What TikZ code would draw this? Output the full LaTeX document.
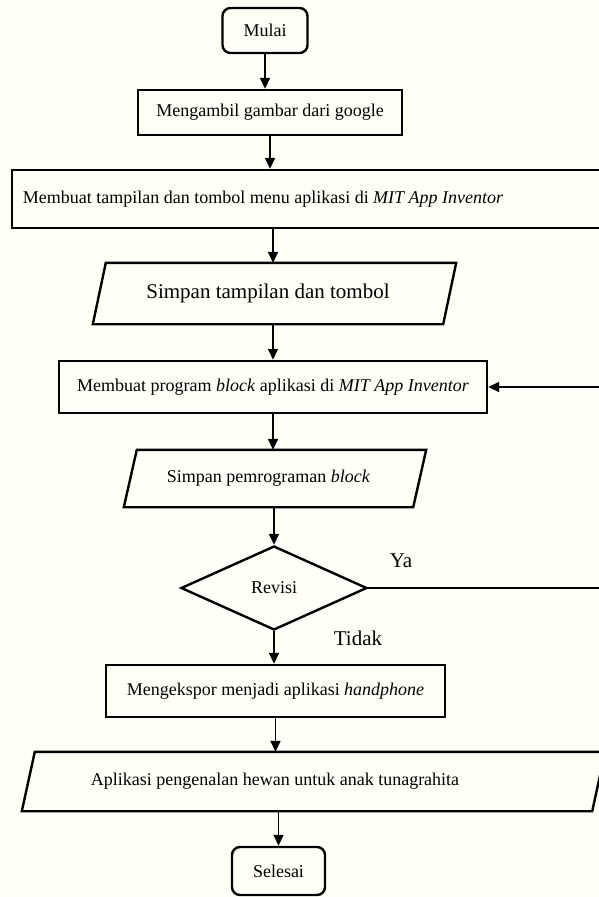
\documentclass[tikz,border=0pt]{standalone}
\usepackage{fontspec}
\setmainfont{Liberation Serif}
\usetikzlibrary{shapes.geometric,arrows.meta}
\definecolor{bg}{RGB}{255,255,246}
\begin{document}
\begin{tikzpicture}[x=1pt,y=-1pt,
  txt/.style={font=\fontsize{18}{21}\selectfont},
  proc/.style={draw,line width=2.4pt,inner sep=0pt,align=center,txt},
  term/.style={proc,rounded corners=8pt},
  iobody/.style={inner sep=0pt,align=center,txt},
  ioline/.style={line width=2.4pt,line join=miter},
  dec/.style={proc,diamond,aspect=2.2},
  arr/.style={line width=1.6pt,-{Triangle[length=11pt,width=10pt]}},
  lab/.style={font=\fontsize{21}{24}\selectfont,inner sep=0pt}]
\fill[bg] (0,0) rectangle (599,897);
\useasboundingbox (0,0) rectangle (599,897);

\node[term,minimum width=85pt,minimum height=45pt] (m) at (265,30.5) {Mulai};
\node[proc,minimum width=264pt,minimum height=45pt] (b1) at (270,112.5) {Mengambil gambar dari google};
\node[proc,minimum width=608pt,minimum height=58pt,
  label={[xshift=-53pt,txt]center:Membuat tampilan dan tombol menu aplikasi di \textit{MIT App Inventor}}] (b2) at (316,199) {\phantom{X}};

\node[iobody,minimum width=350pt,minimum height=61pt,font=\fontsize{21}{24}\selectfont] (p1) at (268,293.5) {Simpan tampilan dan tombol};
\draw[ioline] (p1.south west) -- ([xshift=13pt]p1.north west) -- ([xshift=13pt]p1.north east) -- (p1.south east) -- cycle;

\node[proc,minimum width=428pt,minimum height=52pt] (b3) at (273,387) {Membuat program \textit{block} aplikasi di \textit{MIT App Inventor}};

\node[iobody,minimum width=289pt,minimum height=57pt] (p2) at (268.5,478.5) {Simpan pemrograman \textit{block}};
\draw[ioline] (p2.south west) -- ([xshift=13pt]p2.north west) -- ([xshift=13pt]p2.north east) -- (p2.south east) -- cycle;

\node[dec,minimum width=186pt,minimum height=84pt] (d) at (274,588) {Revisi};
\node[proc,minimum width=339pt,minimum height=52pt] (b4) at (275.5,691) {Mengekspor menjadi aplikasi \textit{handphone}};

\node[iobody,minimum width=570pt,minimum height=59pt,
  label={[xshift=-32pt,txt]center:Aplikasi pengenalan hewan untuk anak tunagrahita}] (p3) at (307,781.5) {\phantom{X}};
\draw[ioline] (p3.south west) -- ([xshift=13pt]p3.north west) -- ([xshift=13pt]p3.north east) -- (p3.south east) -- cycle;

\node[term,minimum width=93pt,minimum height=48pt] (e) at (278.5,871) {Selesai};

\node[lab] (ya) at (401,561) {Ya};
\node[lab] (tidak) at (358,638) {Tidak};

\draw[arr] (m.south) -- (m.south |- b1.north);
\draw[arr] (b1.south) -- (b1.south |- b2.north);
\draw[arr] (b3.north |- b2.south) -- (b3.north |- p1.north);
\draw[arr] (b3.north |- p1.south) -- (b3.north);
\draw[arr] (b3.south) -- (b3.south |- p2.north);
\draw[arr] (d.north |- p2.south) -- (d.north);
\draw[arr] (d.south) -- (d.south |- b4.north);
\draw[arr] (b4.south) -- (b4.south |- p3.north);
\draw[arr] (e.north |- p3.south) -- (e.north);
\draw[arr] (d.east) -- ++(260,0) |- (b3.east);
\end{tikzpicture}
\end{document}
